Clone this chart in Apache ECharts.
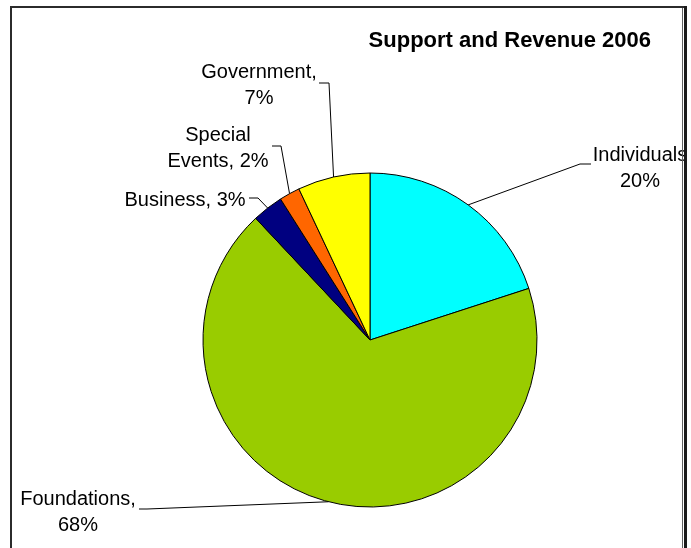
<!DOCTYPE html>
<html>
<head>
<meta charset="utf-8">
<title>Support and Revenue 2006</title>
<script src="https://cdn.jsdelivr.net/npm/echarts@6/dist/echarts.min.js"></script>
<style>
  html, body { margin: 0; padding: 0; background: #ffffff; }
  #chart { width: 691px; height: 548px; }
</style>
</head>
<body>
<div id="chart"></div>
<script>
// Revenue sources, in slice order clockwise from twelve o'clock
const categories = ['Individuals', 'Foundations', 'Business', 'Special Events', 'Government'];
const shares = [20, 68, 3, 2, 7];

// How each label's name is written and where its value line breaks
const labelNames = ['Individuals', 'Foundations,', 'Business,', 'Special\nEvents,', 'Government,'];
const labelBreaks = ['\n', '\n', ' ', ' ', '\n'];

const sliceColors = ['#00FFFF', '#99CC00', '#000080', '#FF6600', '#FFFF00'];

// Label block centres and leader-line elbows (pixels)
const labelPos = [[640, 168], [78, 512], [185, 200], [218, 148], [259, 85]];
const leaderBend = [[580, 164], [147, 509], [258, 198], [281, 146], [329, 83]];
const leaderEnd = [[591, 164], [139, 509], [249, 198], [272, 146], [319, 83]];

const FONT = "'Liberation Sans', Arial, sans-serif";

const chart = echarts.init(document.getElementById('chart'), null, { renderer: 'canvas' });

chart.setOption({
  backgroundColor: '#ffffff',
  animation: false,
  title: {
    text: 'Support and Revenue 2006',
    right: 40,
    top: 30,
    padding: 0,
    textStyle: { fontFamily: FONT, fontWeight: 'bold', fontSize: 22, color: '#000000' }
  },
  series: [{
    type: 'pie',
    center: [370, 340],
    radius: 167,
    startAngle: 90,
    clockwise: true,
    avoidLabelOverlap: false,
    silent: true,
    data: categories.map((name, i) => ({
      name: name,
      value: shares[i],
      itemStyle: { color: sliceColors[i] }
    })),
    itemStyle: { borderColor: '#000000', borderWidth: 1 },
    label: {
      show: true,
      position: 'outside',
      color: '#000000',
      fontFamily: FONT,
      fontSize: 20,
      lineHeight: 26,
      align: 'center',
      formatter: (p) => labelNames[p.dataIndex] + labelBreaks[p.dataIndex] + p.value + '%'
    },
    labelLine: {
      show: true,
      length: 10,
      length2: 10,
      smooth: false,
      lineStyle: { color: '#000000', width: 1 }
    },
    labelLayout: (params) => {
      const i = params.dataIndex;
      const layout = {
        x: labelPos[i][0],
        y: labelPos[i][1],
        align: 'center',
        verticalAlign: 'middle'
      };
      if (params.labelLinePoints) {
        const edge = params.labelLinePoints[0].slice();
        layout.labelLinePoints = [edge, leaderBend[i].slice(), leaderEnd[i].slice()];
      }
      return layout;
    },
    emphasis: { disabled: true }
  }],
  // Chart frame: dark top/left rule, double rule on the right
  graphic: [
    { type: 'rect', z: 100, shape: { x: 10, y: 6, width: 677, height: 2 }, style: { fill: '#2b2b2b' } },
    { type: 'rect', z: 100, shape: { x: 10, y: 6, width: 2, height: 542 }, style: { fill: '#2b2b2b' } },
    { type: 'rect', z: 100, shape: { x: 682, y: 8, width: 1, height: 540 }, style: { fill: '#606060' } },
    { type: 'rect', z: 100, shape: { x: 684, y: 6, width: 3, height: 542 }, style: { fill: '#1a1a1a' } }
  ]
});
</script>
</body>
</html>
